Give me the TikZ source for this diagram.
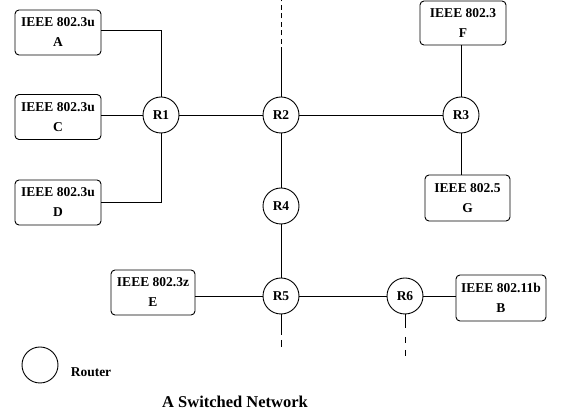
\documentclass[tikz,border=0pt]{standalone}
\usepackage{fontspec}
\setmainfont{Liberation Serif}
\begin{document}
\begin{tikzpicture}[x=1pt,y=-1pt,
  txt/.style={font=\fontsize{13.5}{20}\selectfont\bfseries},
  box/.style={draw, rounded corners=4pt, line width=0.9pt, txt, align=center, inner sep=0pt},
  router/.style={draw, circle, minimum size=36pt, inner sep=0pt, line width=0.9pt, txt},
  link/.style={line width=0.9pt},
  dashlink/.style={line width=0.9pt, dash pattern=on 5pt off 3.5pt}]
\useasboundingbox (0,0) rectangle (566,411);
% boxes
\node[box, minimum width=86pt, minimum height=45pt] (A) at (58,32.5) {IEEE 802.3u\\A};
\node[box, minimum width=86pt, minimum height=45pt] (C) at (58,117) {IEEE 802.3u\\C};
\node[box, minimum width=86pt, minimum height=45pt] (D) at (58,202.5) {IEEE 802.3u\\D};
\node[box, minimum width=86pt, minimum height=44pt] (F) at (463,23) {IEEE 802.3\\F};
\node[box, minimum width=85pt, minimum height=46pt] (G) at (467.5,198) {IEEE 802.5\\G};
\node[box, minimum width=84pt, minimum height=45pt] (E) at (153,292.5) {IEEE 802.3z\\E};
\node[box, minimum width=90pt, minimum height=46pt] (B) at (501,298) {IEEE 802.11b\\B};
% routers
\node[router] (R1) at (161,115) {R1};
\node[router] (R2) at (281,115) {R2};
\node[router] (R3) at (461,115) {R3};
\node[router] (R4) at (281,206) {R4};
\node[router] (R5) at (281,296) {R5};
\node[router] (R6) at (405,296) {R6};
% legend and title
\node[router] (legend) at (40,365) {};
\node[txt] (routerlabel) at (91,372) {Router};
\node[font=\fontsize{16.5}{20}\selectfont\bfseries, inner sep=0pt] (title) at (235,401.5) {A Switched Network};
% free ends
\coordinate (R2s) at (281,47);
\coordinate (R2d) at (281,44);
\coordinate (R2e) at (281,0);
\coordinate (R5s) at (281,335);
\coordinate (R5d) at (281,340);
\coordinate (R5e) at (281,347);
\coordinate (R6s) at (405,328);
\coordinate (R6d) at (405,337);
\coordinate (R6e) at (405,360);
% links
\draw[link] ([yshift=2.5pt]A.east) -| (R1.north);
\draw[link] (R1) -- (R1 -| C.east);
\draw[link] (D.east) -| (R1.south);
\draw[link] (R1) -- (R2);
\draw[link] (R2) -- (R3);
\draw[link] (R3.north) -- (R3.north |- F.south);
\draw[link] (R3.south) -- (R3.south |- G.north);
\draw[link] (R2) -- (R4);
\draw[link] (R4) -- (R5);
\draw[link] (R5) -- (R5 -| E.east);
\draw[link] (R5) -- (R6);
\draw[link] (R6) -- (R6 -| B.west);
\draw[link] (R2.north) -- (R2s);
\draw[dashlink] (R2d) -- (R2e);
\draw[link] (R5.south) -- (R5s);
\draw[link] (R5d) -- (R5e);
\draw[link] (R6.south) -- (R6s);
\draw[link, dash pattern=on 6pt off 7pt] (R6d) -- (R6e);
\end{tikzpicture}
\end{document}
